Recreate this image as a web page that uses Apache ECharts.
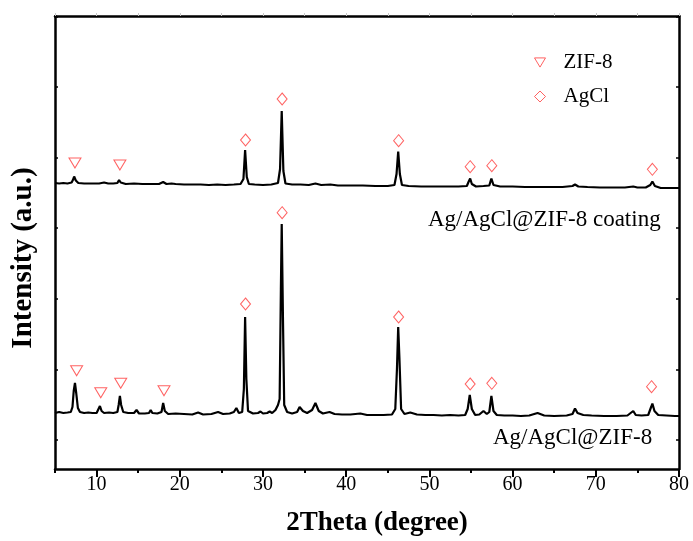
<!DOCTYPE html>
<html>
<head>
<meta charset="utf-8">
<script src="https://cdn.jsdelivr.net/npm/echarts@6/dist/echarts.min.js"></script>
<style>
html,body{margin:0;padding:0;background:#fff;}
#chart{width:693px;height:541px;}
</style>
</head>
<body>
<div id="chart"></div>
<script>
// ---- Data (2Theta in degrees, intensity in arbitrary units) ----
var xTickLabels = [10, 20, 30, 40, 50, 60, 70, 80];
var yTickValues = [29, 99.6, 170.2, 240.8, 311.4, 382, 452.6];

var coatingPattern = [
  [5.0,286],[5.5,285.5],[6.0,286],[6.5,285.5],[7.0,286.5],[7.15,289],[7.3,292.5],[7.5,288.5],[7.8,286],
  [8.5,285.5],[9.5,285.5],[10.3,285.5],[10.9,286.5],[11.1,287.5],[11.4,285.5],[12.0,285.5],[12.5,286],
  [12.7,289],[12.9,286.5],[13.5,285],[14.5,285.5],[15.5,285],[16.5,285],[17.5,285],[18.0,287],[18.4,285],
  [19.0,285.5],[19.5,285],[20.5,284.5],[21.5,284.5],[22.5,284.5],[23.5,284],[24.5,284.5],[25.5,284],
  [26.5,284.5],[27.3,285],[27.65,290],[27.85,319],[28.05,292],[28.3,285],[29,284.5],[30,284],[31,284.5],
  [31.8,286],[32.05,300],[32.25,358],[32.45,298],[32.7,285.5],[33.5,284.5],[34.5,284.5],[35.5,284],
  [36.3,285.5],[37,284],[38.1,284.5],[39,283.5],[40.5,283.5],[42,283.5],[43.5,283],[45,283],[45.8,284],
  [46.05,295],[46.25,317.5],[46.45,295],[46.7,284],[47.5,283],[49,282.5],[50.5,282.5],[52,282.5],
  [53.5,282.5],[54.5,283],[54.7,287],[54.9,290.5],[55.1,285],[55.6,282.5],[56.5,283],[57.2,283.5],
  [57.45,290.5],[57.7,284],[58.5,282.5],[60,282.5],[61.5,282],[63,282],[64.5,282],[66,282],[67.2,283],
  [67.5,284.5],[67.9,282.5],[69,282],[70.5,281.5],[72,281.5],[73.5,281.5],[74.5,282.5],[75,281.5],
  [76,281.5],[76.55,284],[76.8,287.5],[77.1,283],[77.8,281],[79,281],[80,281]
];

var powderPattern = [
  [5.0,56],[5.5,57],[6.0,56],[6.5,56.5],[6.9,57],[7.1,62],[7.25,78],[7.4,86],[7.55,76],[7.75,61],[8.0,57],
  [8.5,56],[9.0,56.5],[9.5,56],[10.0,56],[10.2,58],[10.4,63],[10.6,58],[10.9,56],[11.5,56.5],[12.0,56],
  [12.5,57],[12.65,64],[12.8,73],[12.95,64],[13.2,57],[13.8,56],[14.5,56],[14.8,59],[15.1,55.5],[15.8,55.5],
  [16.3,56],[16.5,59],[16.7,56],[17.3,55.5],[17.8,57],[18.0,66],[18.2,58],[18.6,55],[19.5,55.5],[20.5,55],
  [21.5,54.5],[22.2,56.5],[22.8,54.5],[23.8,55],[24.6,57],[25.2,55],[26.0,55.5],[26.5,57],[26.8,61],
  [27.1,56],[27.5,57],[27.7,80],[27.85,152],[28.0,90],[28.2,58],[28.8,55.5],[29.4,56],[29.7,57.5],
  [30.0,55.5],[30.5,56],[30.8,57.5],[31.1,56],[31.5,59],[31.8,64],[32.0,70],[32.15,180],[32.25,245],
  [32.4,150],[32.55,64],[32.9,57],[33.5,55.5],[34.1,57],[34.4,62],[34.8,58],[35.3,56],[35.9,59],[36.3,66],
  [36.7,58],[37.2,55.5],[38.0,57],[38.6,55],[39.5,54.5],[40.5,54.5],[41.7,55.5],[42.5,54],[43.5,54],
  [44.5,54],[45.5,54.5],[45.9,60],[46.1,100],[46.25,142],[46.4,110],[46.6,60],[47.0,55],[47.7,56.5],
  [48.5,54.5],[49.5,54],[50.5,54],[51.5,53.5],[52.5,54],[53.5,53.5],[54.3,54],[54.6,60],[54.85,74],
  [55.1,60],[55.5,54],[56.0,54.5],[56.5,58],[56.9,55],[57.2,57],[57.45,73],[57.7,58],[58.1,54],[59.0,53.5],
  [60.0,53.5],[61.0,53],[62.0,53.5],[63.0,56],[63.8,53.5],[65.0,53],[66.5,53.5],[67.2,55],[67.5,60.5],
  [67.8,56],[68.5,54],[69.5,53.5],[71.0,53],[72.5,53],[73.8,53.5],[74.5,58],[74.8,54],[75.5,53.5],
  [76.3,54],[76.65,62],[76.8,65.5],[77.05,58],[77.5,54],[78.5,53.5],[79.5,53],[80,53]
];

var zif8Markers = [
  [7.4,306],[12.8,304],
  [7.6,98.3],[10.5,76.3],[12.9,85.7],[18.1,78.3]
];
var agclMarkers = [
  [27.9,329],[32.3,370],[46.3,328.3],[54.9,302.3],[57.5,303.3],[76.8,299.7],
  [27.9,165],[32.3,256.3],[46.3,152],[54.9,85],[57.5,85.7],[76.7,82.3]
];

var seriesNames = ['ZIF-8', 'AgCl'];
var sampleLabels = ['Ag/AgCl@ZIF-8 coating', 'Ag/AgCl@ZIF-8'];
var xTitle = '2Theta (degree)';
var yTitle = 'Intensity (a.u.)';

// ---- Chart ----
var FONT = '"Liberation Serif","Times New Roman",serif';
var RED = '#ff3b3b';
var chart = echarts.init(document.getElementById('chart'), null, {renderer: 'canvas'});

var axisLine = {show: true, lineStyle: {color: '#000', width: 2.5}};
var hollow = {color: 'rgba(255,255,255,0)', borderColor: RED, borderWidth: 1};

chart.setOption({
  animation: false,
  backgroundColor: '#fff',
  grid: {left: 55, right: 14, top: 16, bottom: 72, containLabel: false},
  xAxis: [
    {
      type: 'value', position: 'bottom', min: 5, max: 80, interval: 5,
      axisLine: axisLine,
      axisTick: {show: true, inside: false, length: 4, lineStyle: {color: '#000', width: 2}},
      axisLabel: {
        show: true, margin: 6, color: '#000', fontFamily: FONT, fontSize: 20,
        customValues: xTickLabels
      },
      splitLine: {show: false}
    },
    {
      type: 'value', position: 'bottom', min: 5, max: 80,
      axisLine: {show: false},
      axisTick: {show: true, inside: false, length: 8, lineStyle: {color: '#000', width: 2},
                 customValues: xTickLabels},
      axisLabel: {show: false},
      splitLine: {show: false}
    },
    {
      type: 'value', position: 'top', min: 5, max: 80, interval: 5,
      axisLine: axisLine,
      axisTick: {show: true, inside: false, length: 3, lineStyle: {color: '#c8c8c8', width: 1}},
      axisLabel: {show: false},
      splitLine: {show: false}
    }
  ],
  yAxis: [
    {
      type: 'value', position: 'left', min: 0, max: 453,
      axisLine: axisLine,
      axisTick: {show: true, inside: true, length: 3, lineStyle: {color: '#000', width: 1.5},
                 customValues: yTickValues},
      axisLabel: {show: false},
      splitLine: {show: false}
    },
    {
      type: 'value', position: 'right', min: 0, max: 453,
      axisLine: axisLine,
      axisTick: {show: true, inside: true, length: 3, lineStyle: {color: '#000', width: 1.5},
                 customValues: yTickValues},
      axisLabel: {show: false},
      splitLine: {show: false}
    }
  ],
  legend: {
    data: [
      {name: seriesNames[0], icon: 'path://M0,0 L12,0 L6,10 Z', itemStyle: hollow},
      {name: seriesNames[1], icon: 'diamond', itemStyle: hollow}
    ],
    orient: 'vertical',
    left: 529, top: 46,
    itemWidth: 11, itemHeight: 11,
    itemGap: 11,
    textStyle: {fontFamily: FONT, fontSize: 21, color: '#000', lineHeight: 23, padding: [0, 0, 0, 13]}
  },
  series: [
    {
      name: sampleLabels[0], type: 'line', data: coatingPattern,
      showSymbol: false, silent: true,
      lineStyle: {color: '#000', width: 2.2}, z: 3
    },
    {
      name: sampleLabels[1], type: 'line', data: powderPattern,
      showSymbol: false, silent: true,
      lineStyle: {color: '#000', width: 2.2}, z: 3
    },
    {
      name: seriesNames[0], type: 'scatter', data: zif8Markers,
      symbol: 'triangle', symbolRotate: 180, symbolSize: [12, 10],
      itemStyle: hollow, z: 4
    },
    {
      name: seriesNames[1], type: 'scatter', data: agclMarkers,
      symbol: 'diamond', symbolSize: [10, 12],
      itemStyle: hollow, z: 4
    }
  ],
  graphic: [
    {type: 'text', x: 428, y: 220,
     style: {text: sampleLabels[0], font: '23px ' + FONT, fill: '#000', align: 'left', verticalAlign: 'middle'}},
    {type: 'text', x: 493, y: 438,
     style: {text: sampleLabels[1], font: '23px ' + FONT, fill: '#000', align: 'left', verticalAlign: 'middle'}},
    {type: 'text', x: 377, y: 523,
     style: {text: xTitle, font: 'bold 27px ' + FONT, fill: '#000', align: 'center', verticalAlign: 'middle'}},
    {type: 'text', x: 24, y: 258, rotation: Math.PI / 2,
     style: {text: yTitle, font: 'bold 29px ' + FONT, fill: '#000', align: 'center', verticalAlign: 'middle'}}
  ]
});
</script>
</body>
</html>
